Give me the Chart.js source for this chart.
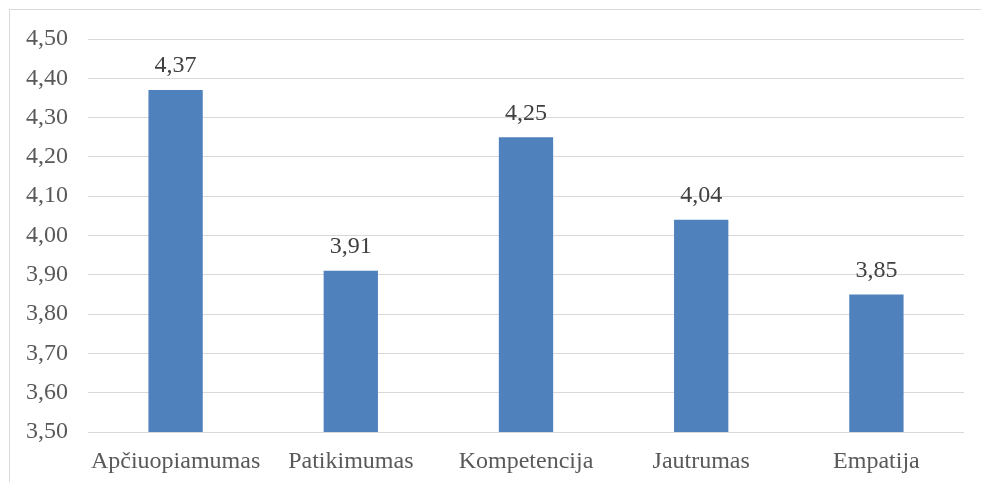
<!DOCTYPE html>
<html>
<head>
<meta charset="utf-8">
<script src="https://cdn.jsdelivr.net/npm/chart.js@4"></script>
<style>
html,body{margin:0;padding:0;background:#fff;width:981px;height:482px;overflow:hidden;}
#frame{position:absolute;left:9px;top:9px;width:1000px;height:500px;border:1px solid #d9d9d9;box-sizing:border-box;}
#wrap{position:absolute;left:0;top:0;width:981px;height:482px;}
</style>
</head>
<body>
<div id="frame"></div>
<div id="wrap"><canvas id="c" width="981" height="482"></canvas></div>
<script>
const categories = ["Apčiuopiamumas", "Patikimumas", "Kompetencija", "Jautrumas", "Empatija"];
const values = [4.37, 3.91, 4.25, 4.04, 3.85];
const yMin = 3.5, yMax = 4.5, yStep = 0.1;

const FONT = "'Liberation Serif', 'Times New Roman', serif";
const fmt = v => v.toFixed(2).replace('.', ',');

const dataLabels = {
  id: 'dataLabels',
  afterDatasetsDraw(chart) {
    const ctx = chart.ctx;
    const meta = chart.getDatasetMeta(0);
    ctx.save();
    ctx.font = "24px " + FONT;
    ctx.fillStyle = "#404040";
    ctx.textAlign = "center";
    ctx.textBaseline = "bottom";
    meta.data.forEach((bar, i) => {
      ctx.fillText(fmt(values[i]), bar.x, bar.y - 12);
    });
    ctx.restore();
  }
};

new Chart(document.getElementById('c'), {
  type: 'bar',
  data: {
    labels: categories,
    datasets: [{
      data: values,
      backgroundColor: '#4F81BD',
      borderWidth: 0,
      categoryPercentage: 1,
      barPercentage: 0.31
    }]
  },
  options: {
    responsive: false,
    animation: false,
    devicePixelRatio: 1,
    layout: { padding: { left: 0, right: 17, top: 39, bottom: 0 } },
    plugins: { legend: { display: false }, tooltip: { enabled: false } },
    scales: {
      y: {
        min: yMin, max: yMax,
        afterFit(s) { s.width = 88; },
        ticks: {
          stepSize: yStep,
          padding: 20,
          color: '#595959',
          font: { family: FONT, size: 24 },
          callback: v => fmt(v)
        },
        grid: { color: '#d9d9d9', lineWidth: 1, drawTicks: false },
        border: { display: false }
      },
      x: {
        afterFit(s) { s.height = 50; },
        ticks: {
          padding: 15,
          color: '#595959',
          font: { family: FONT, size: 24 },
          maxRotation: 0
        },
        grid: { display: false, drawTicks: false },
        border: { display: false }
      }
    }
  },
  plugins: [dataLabels]
});
</script>
</body>
</html>
